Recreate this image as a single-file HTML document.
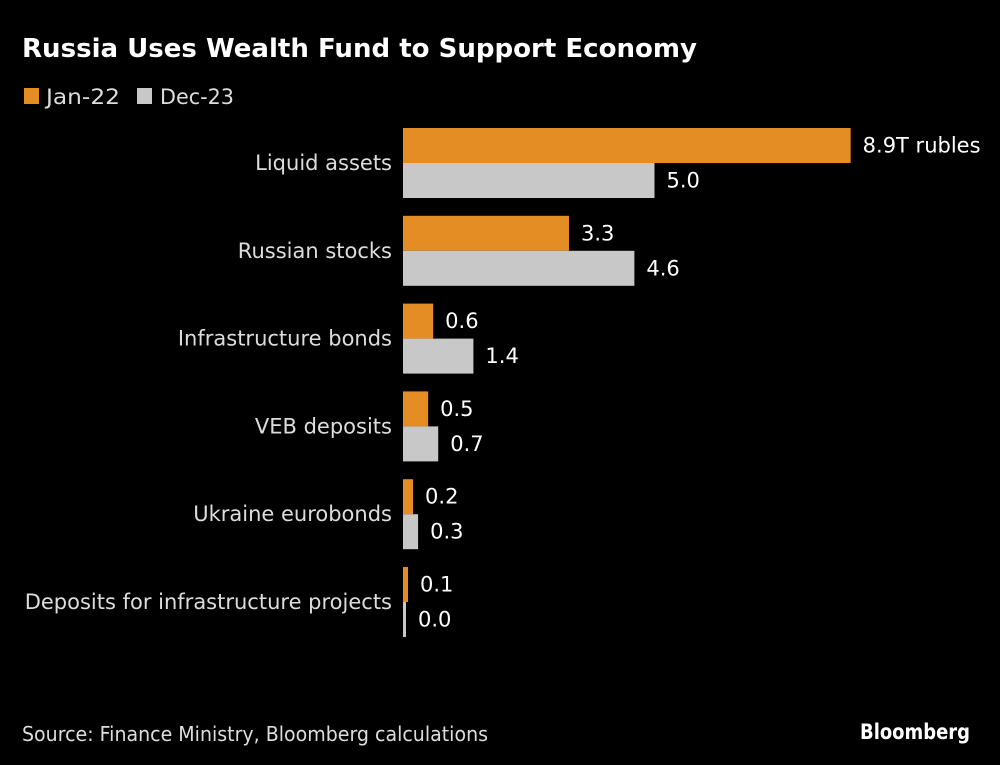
<!DOCTYPE html>
<html><head><meta charset="utf-8"><style>
html,body{margin:0;padding:0;background:#000;width:1000px;height:765px;overflow:hidden}
svg{display:block;font-family:"DejaVu Sans","Liberation Sans",sans-serif}
</style></head><body>
<svg id="chart" width="1000" height="765" viewBox="0 0 1000 765">
<text x="22" y="57" fill="#fff" font-size="26" font-weight="bold" textLength="675" lengthAdjust="spacingAndGlyphs">Russia Uses Wealth Fund to Support Economy</text>
<g>
<rect x="24" y="88" width="15" height="16" fill="#e38d24"/>
<text x="46" y="104" fill="#ddd" font-size="21" textLength="74" lengthAdjust="spacingAndGlyphs">Jan-22</text>
<rect x="137" y="88" width="15" height="16" fill="#c8c8c8"/>
<text x="160" y="104" fill="#ddd" font-size="21" textLength="74" lengthAdjust="spacingAndGlyphs">Dec-23</text>
</g>
<g id="bars"></g>
<text x="22" y="741" fill="#ddd" font-size="20" textLength="466" lengthAdjust="spacingAndGlyphs">Source: Finance Ministry, Bloomberg calculations</text>
<text x="970" y="739" fill="#fff" font-size="21" font-weight="bold" text-anchor="end" textLength="110" lengthAdjust="spacingAndGlyphs">Bloomberg</text>
</svg>
<script>
const categories = ["Liquid assets","Russian stocks","Infrastructure bonds","VEB deposits","Ukraine eurobonds","Deposits for infrastructure projects"];
const jan22 = [8.9,3.3,0.6,0.5,0.2,0.1];
const dec23 = [5.0,4.6,1.4,0.7,0.3,0.0];
const janLabels = ["8.9T rubles","3.3","0.6","0.5","0.2","0.1"];
const decLabels = ["5.0","4.6","1.4","0.7","0.3","0.0"];

const NS="http://www.w3.org/2000/svg";
const g=document.getElementById('bars');
const x0=403, pxPerUnit=50.3;
const xScale=v=>Math.max(3,v*pxPerUnit);
const yBand=i=>128+i*87.8;
const barH=35;
function mk(tag,attrs){const e=document.createElementNS(NS,tag);for(const k in attrs)e.setAttribute(k,attrs[k]);return e;}
categories.forEach((c,i)=>{
  const y=yBand(i);
  const lab=mk('text',{x:392,y:y+barH+7,fill:'#ddd','font-size':21,'text-anchor':'end'});
  lab.textContent=c;
  
  
  g.appendChild(lab);
  [[jan22,janLabels,'#e38d24',0,'jan-22'],[dec23,decLabels,'#c8c8c8',barH,'dec-23']].forEach(([vals,labs,col,off,nm])=>{
    const w=xScale(vals[i]);
    const r=mk('rect',{x:x0,y:y+off,width:w,height:barH,fill:col});
    
    
    g.appendChild(r);
    const t=mk('text',{x:x0+w+12,y:y+off+barH/2+7,fill:'#fff','font-size':21});
    t.textContent=labs[i];
    
    
    g.appendChild(t);
  });
});
</script>
</body></html>
